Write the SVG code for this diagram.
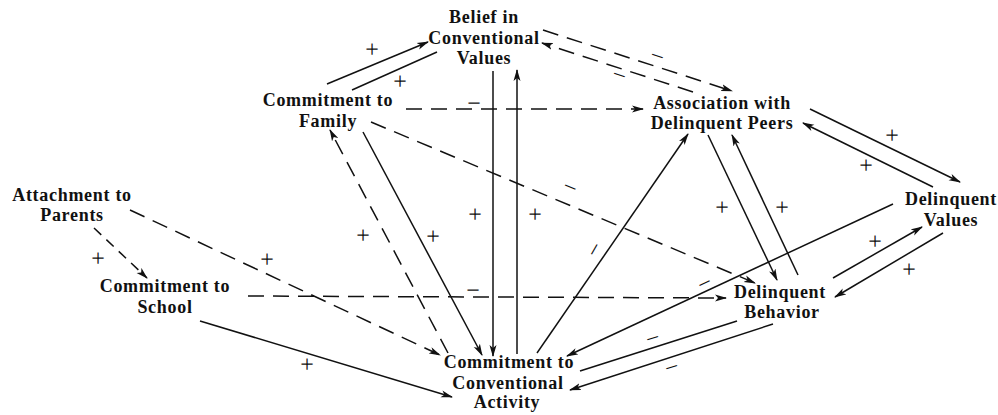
<svg xmlns="http://www.w3.org/2000/svg" width="998" height="415" viewBox="0 0 998 415">
  <style>
    .node text { font-family: "Liberation Serif", "Times New Roman", serif; font-size: 18px; font-weight: bold; letter-spacing: 0.7px; fill: #111; text-anchor: middle; }
    .link { fill: none; stroke: #111; stroke-width: 1.5; }
    .dash { stroke-dasharray: 16 9; }
    .dash-s { stroke-dasharray: 10 7; }
    .arr { marker-end: url(#head); }
    .sign { font-family: "Liberation Serif", "Times New Roman", serif; font-size: 24px; fill: #111; text-anchor: middle; text-rendering: geometricPrecision; }
  </style>
  <defs>
    <marker id="head" viewBox="0 0 12 8" refX="11" refY="4" markerWidth="12" markerHeight="8" markerUnits="userSpaceOnUse" orient="auto">
      <path d="M0,0.5 L12,4 L0,7.5 L3,4 z" fill="#111"/>
    </marker>
  </defs>
  <rect width="998" height="415" fill="#fff"/>

  <!-- connectors -->
  <g id="connectors">
    <line class="link arr" x1="327" y1="84" x2="428" y2="42"/>
    <line class="link" x1="437" y1="52" x2="352" y2="90"/>
    <line class="link dash arr" x1="406" y1="109" x2="643" y2="109"/>
    <line class="link dash arr" x1="543" y1="30" x2="732" y2="91"/>
    <line class="link dash arr" x1="693" y1="92" x2="542" y2="43"/>
    <line class="link arr" x1="810" y1="109" x2="960" y2="182"/>
    <line class="link arr" x1="933" y1="187" x2="803" y2="123"/>
    <line class="link arr" x1="708" y1="135" x2="777" y2="280"/>
    <line class="link arr" x1="798" y1="275" x2="732" y2="135"/>
    <line class="link arr" x1="537" y1="353" x2="688" y2="134"/>
    <line class="link arr" x1="893" y1="204" x2="567" y2="356"/>
    <line class="link" x1="737" y1="321" x2="580" y2="371"/>
    <line class="link arr" x1="773" y1="324" x2="570" y2="390"/>
    <line class="link arr" x1="833" y1="278" x2="922" y2="227"/>
    <line class="link arr" x1="943" y1="233" x2="835" y2="297"/>
    <line class="link dash arr" x1="248" y1="296" x2="726" y2="298"/>
    <line class="link dash-s arr" x1="94" y1="228" x2="147" y2="278"/>
    <line class="link dash arr" x1="130" y1="210" x2="440" y2="355"/>
    <line class="link arr" x1="200" y1="321" x2="452" y2="397"/>
    <line class="link dash arr" x1="448" y1="353" x2="330" y2="130"/>
    <line class="link arr" x1="363" y1="132" x2="482" y2="355"/>
    <line class="link arr" x1="493" y1="71" x2="493" y2="356"/>
    <line class="link arr" x1="517" y1="354" x2="517" y2="70"/>
    <line class="link dash arr" x1="371" y1="122" x2="755" y2="283"/>

    <!-- signs on the paths -->
    <text class="sign" x="372" y="57">+</text>
    <text class="sign" x="400" y="89">+</text>
    <text class="sign" x="474" y="111">−</text>
    <text class="sign" x="657" y="64" transform="rotate(18 657 57)">−</text>
    <text class="sign" x="619" y="83" transform="rotate(18 619 76)">−</text>
    <text class="sign" x="892" y="143">+</text>
    <text class="sign" x="866" y="173">+</text>
    <text class="sign" x="722" y="215">+</text>
    <text class="sign" x="782" y="215">+</text>
    <text class="sign" x="595" y="257" transform="rotate(-60 595 250)">−</text>
    <text class="sign" x="705" y="291" transform="rotate(-25 705 284)">−</text>
    <text class="sign" x="653" y="346" transform="rotate(-17 653 339)">−</text>
    <text class="sign" x="672" y="375" transform="rotate(-17 672 368)">−</text>
    <text class="sign" x="875" y="249">+</text>
    <text class="sign" x="909" y="277">+</text>
    <text class="sign" x="473" y="298">−</text>
    <text class="sign" x="98" y="266">+</text>
    <text class="sign" x="267" y="267">+</text>
    <text class="sign" x="307" y="372">+</text>
    <text class="sign" x="363" y="243">+</text>
    <text class="sign" x="433" y="244">+</text>
    <text class="sign" x="475" y="222">+</text>
    <text class="sign" x="535" y="222">+</text>
    <text class="sign" x="570" y="195" transform="rotate(22 570 188)">−</text>
  </g>

  <!-- nodes -->
  <g id="belief" class="node">
    <text x="484" y="23">Belief in</text>
    <text x="484" y="44">Conventional</text>
    <text x="484" y="64">Values</text>
  </g>
  <g id="family" class="node">
    <text x="328" y="106">Commitment to</text>
    <text x="328" y="127">Family</text>
  </g>
  <g id="peers" class="node">
    <text x="722" y="109">Association with</text>
    <text x="722" y="129">Delinquent Peers</text>
  </g>
  <g id="values" class="node">
    <text x="951" y="205">Delinquent</text>
    <text x="951" y="226">Values</text>
  </g>
  <g id="parents" class="node">
    <text x="72" y="201">Attachment to</text>
    <text x="72" y="221">Parents</text>
  </g>
  <g id="school" class="node">
    <text x="165" y="292">Commitment to</text>
    <text x="165" y="313">School</text>
  </g>
  <g id="behavior" class="node">
    <text x="780" y="298">Delinquent</text>
    <text x="782" y="318">Behavior</text>
  </g>
  <g id="activity" class="node">
    <text x="509" y="368">Commitment to</text>
    <text x="508" y="389">Conventional</text>
    <text x="507" y="408">Activity</text>
  </g>
</svg>
